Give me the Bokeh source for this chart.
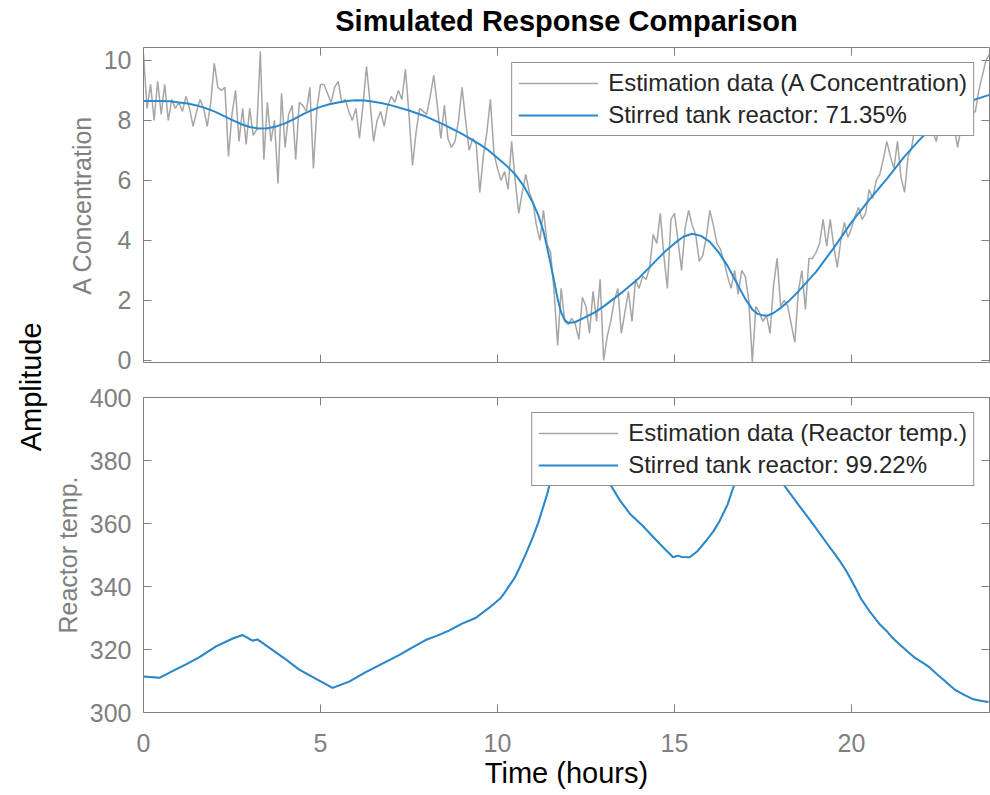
import numpy as np
from math import pi
from bokeh.plotting import figure
from bokeh.layouts import row, column
from bokeh.models import Range1d, LinearAxis, Legend, LegendItem, Label, FixedTicker
from bokeh.embed import file_html
from bokeh.resources import INLINE

# ---------------- data ----------------
# estimation data sampled every 0.1 h (0 .. 23.9 h)
sample_time = np.round(np.arange(0, 24.0, 0.1), 1)

conc_measured = [
    10.2, 8.4, 9.2, 8.0, 9.3, 8.2, 9.2, 8.0, 8.7, 8.4,
    8.6, 8.3, 8.8, 8.4, 7.8, 8.3, 8.7, 8.4, 7.8, 8.6,
    9.9, 9.1, 9.0, 9.1, 6.8, 8.2, 9.0, 7.3, 8.4, 7.2,
    8.4, 7.5, 7.7, 10.3, 6.7, 8.6, 7.3, 8.0, 5.9, 8.9,
    7.1, 8.2, 8.5, 6.7, 8.6, 8.5, 8.3, 9.1, 6.4, 8.4,
    9.2, 9.2, 8.9, 8.6, 9.1, 9.3, 8.6, 8.7, 8.3, 8.0,
    8.4, 7.4, 8.5, 9.8, 8.6, 7.3, 8.0, 8.3, 7.8, 8.5,
    8.8, 8.6, 9.0, 8.7, 9.7, 8.2, 6.5, 7.6, 8.4, 8.3,
    8.2, 8.8, 9.5, 8.5, 7.4, 8.5, 7.4, 7.1, 7.3, 8.0,
    9.1, 8.0, 7.0, 7.4, 7.2, 5.6, 6.8, 7.6, 8.7, 6.9,
    6.4, 6.0, 6.3, 5.7, 7.3, 6.0, 4.9, 5.6, 6.2, 5.6,
    5.3, 4.5, 4.0, 5.0, 3.9, 3.6, 2.3, 0.5, 2.4, 1.3,
    1.2, 1.4, 1.2, 0.7, 2.1, 1.8, 0.9, 2.3, 1.3, 2.7,
    0.0, 0.8, 1.3, 2.0, 2.4, 0.9, 1.6, 2.3, 1.3, 2.7,
    2.4, 2.8, 2.7, 3.1, 4.2, 3.9, 4.9, 3.5, 2.4, 4.7,
    4.9, 4.0, 3.0, 4.4, 5.0, 4.5, 4.2, 3.3, 3.5, 4.1,
    5.0, 4.5, 3.9, 3.7, 3.3, 2.8, 2.4, 3.0, 2.2, 3.0,
    2.8, 2.0, -0.05, 1.8, 1.6, 1.3, 1.5, 0.9, 2.5, 3.4,
    1.8, 2.0, 1.8, 1.2, 0.6, 2.3, 3.0, 1.7, 3.4, 3.4,
    3.6, 3.9, 4.7, 3.8, 4.7, 3.8, 3.1, 4.0, 4.6, 4.1,
    4.4, 4.8, 5.1, 4.7, 4.9, 5.7, 5.4, 6.0, 6.2, 6.7,
    7.3, 6.8, 6.4, 7.3, 6.1, 5.6, 6.8, 7.1, 7.8, 7.6,
    7.5, 7.7, 7.9, 7.6, 7.3, 8.1, 7.8, 8.5, 8.0, 7.8,
    7.1, 7.8, 8.4, 8.6, 8.2, 8.3, 9.0, 9.5, 10.0, 10.2,
]

# simulated model output, A concentration
conc_model_time = [0, 0.5, 0.75, 1.0, 1.25, 1.5, 1.75, 2.0, 2.25, 2.5, 2.75, 3.0,
                   3.25, 3.5, 3.75, 4.0, 4.25, 4.5, 4.75, 5.0, 5.25, 5.5, 5.75,
                   6.0, 6.25, 6.5, 6.75, 7.0, 7.5, 8.0, 8.5, 9.0, 9.5, 9.75, 10.0,
                   10.25, 10.5, 10.75, 11.0, 11.15, 11.3, 11.45, 11.6, 11.7, 11.8,
                   11.9, 12.0, 12.2, 12.5, 12.75, 13.0, 13.5, 14.0, 14.5, 14.75,
                   15.0, 15.25, 15.5, 15.75, 16.0, 16.25, 16.5, 16.75, 17.0, 17.2,
                   17.35, 17.5, 17.65, 17.8, 18.0, 18.25, 18.5, 19.0, 19.5, 20.0,
                   20.5, 21.0, 21.5, 22.0, 22.5, 23.0, 23.5, 23.9]
conc_model = [8.65, 8.65, 8.64, 8.6, 8.56, 8.5, 8.41, 8.3, 8.16, 8.02, 7.88, 7.78,
              7.73, 7.74, 7.8, 7.9, 8.04, 8.2, 8.34, 8.45, 8.54, 8.6, 8.65,
              8.67, 8.66, 8.62, 8.57, 8.5, 8.33, 8.12, 7.85, 7.55, 7.2, 7.0, 6.75,
              6.5, 6.2, 5.8, 5.25, 4.85, 4.3, 3.5, 2.65, 2.05, 1.6,
              1.35, 1.25, 1.28, 1.45, 1.6, 1.8, 2.25, 2.75, 3.35, 3.65,
              3.9, 4.12, 4.22, 4.15, 3.95, 3.6, 3.15, 2.6, 2.05, 1.7,
              1.55, 1.5, 1.5, 1.58, 1.75, 2.0, 2.3, 2.95, 3.75, 4.6,
              5.35, 6.05, 6.8, 7.45, 7.95, 8.35, 8.7, 8.85]

# reactor temperature (measured and simulated overlap almost exactly)
temp_time = [0, 0.45, 0.83, 1.2, 1.58, 2.05, 2.52, 2.8, 3.08, 3.22, 3.5, 3.93, 4.4,
             4.9, 5.34, 5.81, 6.28, 6.75, 7.22, 7.6, 7.97, 8.3, 8.63, 9.0, 9.38,
             9.76, 10.07, 10.2, 10.35, 10.5, 10.63, 10.8, 11.0, 11.15, 11.29, 11.4,
             11.48, 11.75, 12.0, 12.3, 12.6, 12.9, 13.17, 13.45, 13.74, 14.1, 14.4,
             14.7, 14.96, 15.1, 15.2, 15.43, 15.65, 15.9, 16.1, 16.28, 16.5, 16.7,
             17.0, 17.35, 17.7, 18.06, 18.5, 18.91, 19.3, 19.66, 19.85, 20.0,
             20.15, 20.27, 20.5, 20.79, 21.0, 21.15, 21.3, 21.45, 21.6, 21.8,
             22.0, 22.2, 22.4, 22.6, 22.8, 22.95, 23.2, 23.42, 23.65, 23.87]
temp_measured = [311.4, 311.0, 313.2, 315.3, 317.6, 321.0, 323.5, 324.6, 322.8,
                 323.2, 321.0, 317.6, 313.6, 310.5, 307.8, 309.8, 312.8, 315.5,
                 318.2, 320.7, 323.0, 324.4, 326.0, 328.2, 330.0, 333.2, 336.1,
                 338.0, 340.5, 343.0, 346.1, 350.3, 355.7, 360.2, 365.2, 369.2,
                 372.7, 381.0, 387.0, 390.0, 387.0, 380.0, 372.7, 367.5, 363.1,
                 359.3, 355.7, 352.2, 349.3, 349.8, 349.4, 349.3, 351.2, 354.6,
                 357.5, 360.9, 366.0, 372.7, 380.0, 384.0, 380.0, 372.7, 366.0,
                 359.9, 353.8, 348.3, 345.0, 342.0, 338.8, 336.1, 332.3, 328.1,
                 325.8, 323.8, 322.2, 320.7, 319.2, 317.3, 315.9, 314.4, 312.3,
                 310.4, 308.4, 307.0, 305.5, 304.3, 303.7, 303.3]
temp_model = [311.4, 311.0, 313.2, 315.3, 317.6, 321.0, 323.5, 324.6, 322.8,
              323.2, 321.0, 317.6, 313.6, 310.5, 307.8, 309.8, 312.8, 315.5,
              318.2, 320.7, 323.0, 324.4, 326.0, 328.2, 330.0, 333.2, 336.1,
              338.0, 340.5, 343.0, 346.1, 350.3, 355.7, 360.2, 365.2, 369.2,
              372.7, 381.0, 387.0, 390.0, 387.0, 380.0, 372.7, 367.5, 363.1,
              359.3, 355.7, 352.2, 349.3, 349.8, 349.4, 349.3, 351.2, 354.6,
              357.5, 360.9, 366.0, 372.7, 380.0, 384.0, 380.0, 372.7, 366.0,
              359.9, 353.8, 348.3, 345.0, 342.0, 338.8, 336.1, 332.3, 328.1,
              325.8, 323.8, 322.2, 320.7, 319.2, 317.3, 315.9, 314.4, 312.3,
              310.4, 308.4, 307.0, 305.5, 304.3, 303.7, 303.3]

x_ticks = [0, 5, 10, 15, 20]
conc_ticks = [0, 2, 4, 6, 8, 10]
temp_ticks = [300, 320, 340, 360, 380, 400]

legend_conc = ["Estimation data (A Concentration)", "Stirred tank reactor: 71.35%"]
legend_temp = ["Estimation data (Reactor temp.)", "Stirred tank reactor: 99.22%"]
title_text = "Simulated Response Comparison"

# ---------------- style ----------------
FONT = "Liberation Sans"
AX = "#808080"
BLUE = "#2a88cc"
GRAYLINE = "#a6a6a6"
TICK_FS = "25px"


def style_axis(ax, ticks, labels=True):
    ax.ticker = FixedTicker(ticks=ticks)
    ax.axis_line_color = AX
    ax.axis_line_width = 1
    ax.major_tick_line_color = AX
    ax.major_tick_in = 8
    ax.major_tick_out = 0
    ax.minor_tick_in = 0
    ax.minor_tick_out = 0
    ax.major_label_text_font = FONT
    ax.major_label_text_color = AX
    if labels:
        ax.major_label_text_font_size = TICK_FS
    else:
        ax.major_label_overrides = {t: "" for t in ticks}
        ax.major_label_text_font_size = "1px"
        ax.major_label_standoff = 0


def make_panel(height, yr, yticks, ylabel, top_border, bottom_border, show_x):
    p = figure(width=942, height=height, x_range=Range1d(0, 23.9), y_range=yr,
               output_backend="svg", toolbar_location=None,
               x_axis_location=None, y_axis_location=None,
               min_border_left=95, min_border_right=1,
               min_border_top=top_border, min_border_bottom=bottom_border)
    p.grid.visible = False
    p.outline_line_color = None
    p.background_fill_color = "white"
    p.border_fill_color = "white"

    left = LinearAxis()
    style_axis(left, yticks)
    left.major_label_standoff = 12
    left.axis_label = ylabel
    left.axis_label_text_font = FONT
    left.axis_label_text_font_size = "25px"
    left.axis_label_text_font_style = "normal"
    left.axis_label_text_color = AX
    left.axis_label_standoff = 5
    p.add_layout(left, "left")

    bottom = LinearAxis()
    style_axis(bottom, x_ticks, labels=show_x)
    p.add_layout(bottom, "below")

    top = LinearAxis()
    style_axis(top, x_ticks, labels=False)
    p.add_layout(top, "above")

    right = LinearAxis()
    style_axis(right, yticks, labels=False)
    p.add_layout(right, "right")
    return p, bottom, top


def make_legend(p, renderers, labels):
    leg = Legend(items=[LegendItem(label=l, renderers=[r]) for l, r in zip(labels, renderers)],
                 location="top_right")
    leg.label_text_font = FONT
    leg.label_text_font_size = "24px"
    leg.label_text_color = "#262626"
    leg.border_line_color = "#262626"
    leg.border_line_width = 1
    leg.background_fill_color = "white"
    leg.background_fill_alpha = 1
    leg.padding = 6
    leg.spacing = 4
    leg.margin = 15
    leg.glyph_width = 80
    leg.glyph_height = 28
    leg.label_height = 28
    leg.label_standoff = 10
    p.add_layout(leg)


# ---------------- top panel ----------------
p1, p1_bottom, p1_top = make_panel(380, Range1d(-0.07, 10.43), conc_ticks,
                                   "A Concentration", 47, 18, False)
# the chart title is carried by the top axis so that its distance can be set
p1_top.axis_label = title_text
p1_top.axis_label_text_font = FONT
p1_top.axis_label_text_font_size = "29px"
p1_top.axis_label_text_font_style = "bold"
p1_top.axis_label_text_color = "black"
p1_top.axis_label_standoff = 11
g1 = p1.line(sample_time, conc_measured, line_color=GRAYLINE, line_width=1.5)
b1 = p1.line(conc_model_time, conc_model, line_color=BLUE, line_width=2)
make_legend(p1, [g1, b1], legend_conc)

# ---------------- bottom panel ----------------
p2, p2_bottom, p2_top = make_panel(415, Range1d(300, 400), temp_ticks, "Reactor temp.",
                                   17, 83, True)
p2_bottom.major_label_standoff = 21
p2_bottom.axis_label = "Time (hours)"
p2_bottom.axis_label_text_font = FONT
p2_bottom.axis_label_text_font_size = "29px"
p2_bottom.axis_label_text_font_style = "normal"
p2_bottom.axis_label_text_color = "black"
p2_bottom.axis_label_standoff = 2
g2 = p2.line(temp_time, temp_measured, line_color=GRAYLINE, line_width=1.5)
b2 = p2.line(temp_time, temp_model, line_color=BLUE, line_width=2)
make_legend(p2, [g2, b2], legend_temp)

# ---------------- shared y label ----------------
pl = figure(width=48, height=795, x_range=Range1d(0, 1), y_range=Range1d(0, 1),
            output_backend="svg", toolbar_location=None,
            x_axis_location=None, y_axis_location=None, min_border=0)
pl.grid.visible = False
pl.outline_line_color = None
pl.add_layout(Label(x=0.625, y=0.514, text="Amplitude", angle=pi / 2,
                    text_align="center", text_baseline="middle",
                    text_font=FONT, text_font_size="29px", text_color="black"))

layout = row(pl, column(p1, p2))

with open("out.html", "w") as f:
    f.write(file_html(layout, INLINE))
